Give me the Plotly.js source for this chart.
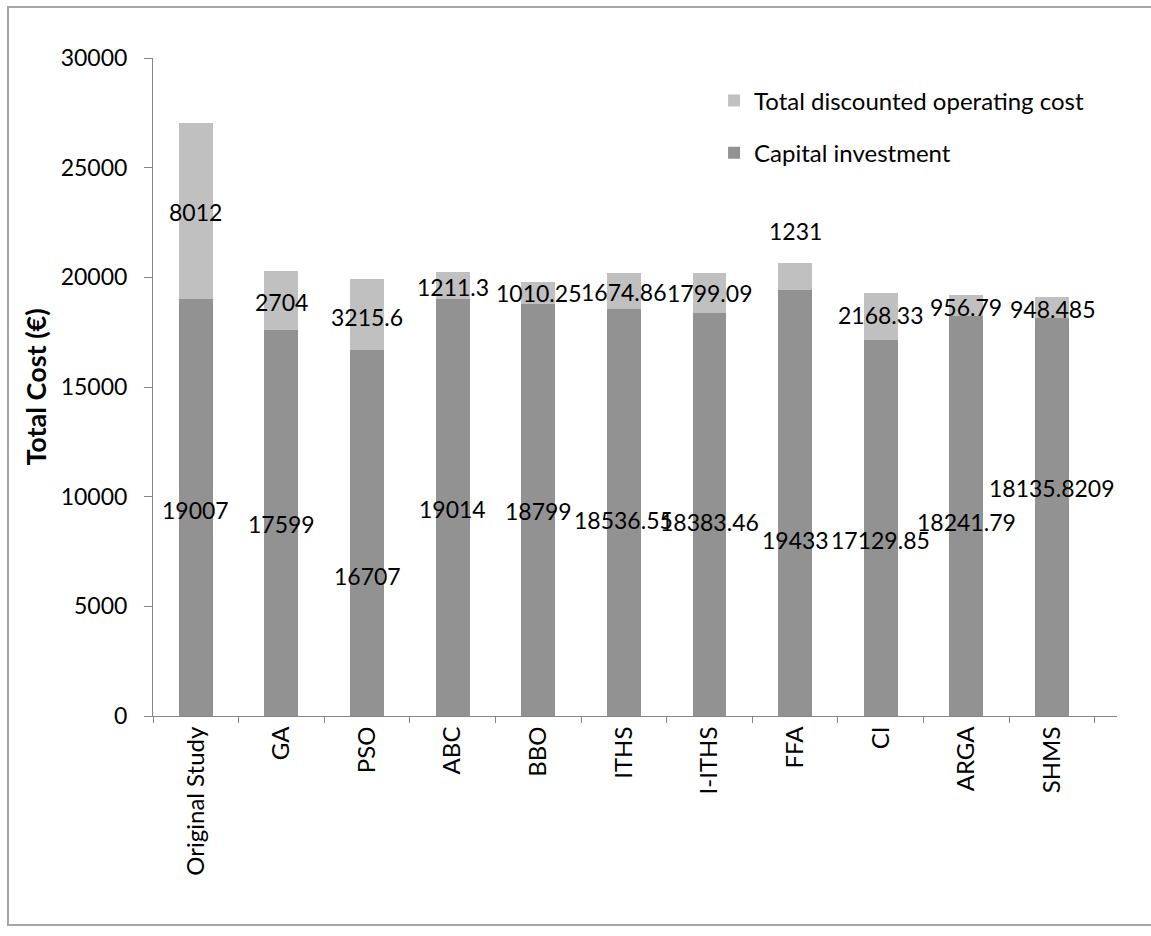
<!DOCTYPE html>
<html>
<head>
<meta charset="utf-8">
<script src="https://cdn.plot.ly/plotly-3.0.1.min.js"></script>
<style>
  html, body { margin: 0; padding: 0; background: #fff; }
  #wrap { position: relative; width: 1151px; height: 936px; overflow: hidden; }
  #chart { position: absolute; left: 0; top: 0; width: 1151px; height: 936px; }
  #frame { position: absolute; left: 7px; top: 6px; width: 1150px; height: 920px;
           border: 2px solid #a6a6a6; box-sizing: border-box; pointer-events: none; }
</style>
</head>
<body>
<div id="wrap">
  <div id="chart"></div>
  <div id="frame"></div>
</div>
<script>
// ---- data ----
const categories = ["Original Study", "GA", "PSO", "ABC", "BBO", "ITHS", "I-ITHS", "FFA", "CI", "ARGA", "SHMS"];
const capitalInvestment = [19007, 17599, 16707, 19014, 18799, 18536.55, 18383.46, 19433, 17129.85, 18241.79, 18135.8209];
const operatingCost = [8012, 2704, 3215.6, 1211.3, 1010.25, 1674.86, 1799.09, 1231, 2168.33, 956.79, 948.485];
const capitalText = ["19007", "17599", "16707", "19014", "18799", "18536.55", "18383.46", "19433", "17129.85", "18241.79", "18135.8209"];
const operatingText = ["8012", "2704", "3215.6", "1211.3", "1010.25", "1674.86", "1799.09", "1231", "2168.33", "956.79", "948.485"];

// label offsets (data units) from the segment centre, as placed in the original
const capLabelShift = [-100, -50, -1950, -70, -50, -330, -350, -1700, -540, -280, 1330];
const opLabelShift = [-30, -75, -120, -60, -20, -40, 0, 2060, 70, -70, -50];

const FONT = "Lato, 'Open Sans', sans-serif";

const traces = [
  {
    type: "bar", name: "Capital investment", x: categories, y: capitalInvestment,
    marker: { color: "#929292", line: { width: 0 } }, legendgroup: "cap", legendrank: 2, hoverinfo: "x+y"
  },
  {
    type: "bar", name: "Total discounted operating cost", x: categories, y: operatingCost,
    marker: { color: "#c0c0c0", line: { width: 0 } }, legendgroup: "op", legendrank: 1, hoverinfo: "x+y"
  }
];

const annotations = [];
categories.forEach((c, i) => {
  annotations.push({
    x: c, y: capitalInvestment[i] / 2 + capLabelShift[i], xref: "x", yref: "y",
    text: capitalText[i], showarrow: false, font: { family: FONT, size: 23, color: "#000" }
  });
  annotations.push({
    x: c, y: capitalInvestment[i] + operatingCost[i] / 2 + opLabelShift[i], xref: "x", yref: "y",
    text: operatingText[i], showarrow: false, font: { family: FONT, size: 23, color: "#000" }
  });
});

const layout = {
  width: 1151, height: 936,
  margin: { l: 153, r: 34, t: 58, b: 220 },
  paper_bgcolor: "rgba(0,0,0,0)", plot_bgcolor: "rgba(0,0,0,0)",
  barmode: "stack", bargap: 0.604,
  font: { family: FONT, size: 23, color: "#000" },
  showlegend: true,
  legend: {
    x: 0.582, y: 0.969, xanchor: "left", yanchor: "top",
    traceorder: "grouped", tracegroupgap: 18,
    font: { family: FONT, size: 24, color: "#000" },
    bgcolor: "rgba(0,0,0,0)"
  },
  xaxis: {
    type: "category", tickangle: -90, tickson: "boundaries",
    ticks: "outside", ticklen: 6, tickcolor: "#868686", tickwidth: 1,
    showline: true, linecolor: "#868686", linewidth: 1,
    showgrid: false, zeroline: false,
    tickfont: { family: FONT, size: 24, color: "#000" }
  },
  yaxis: {
    range: [0, 30000], dtick: 5000, tick0: 0, tickformat: "d",
    ticks: "outside", ticklen: 8, tickcolor: "#868686", tickwidth: 1,
    showline: true, linecolor: "#868686", linewidth: 1,
    showgrid: false, zeroline: false,
    ticklabelstandoff: 12,
    tickfont: { family: FONT, size: 23, color: "#000" },
    title: { text: "<b>Total Cost (€)</b>", standoff: 6, font: { family: FONT, size: 27, color: "#000" } }
  },
  annotations: annotations
};

Plotly.newPlot("chart", traces, layout, { displayModeBar: false, staticPlot: true });
</script>
</body>
</html>
